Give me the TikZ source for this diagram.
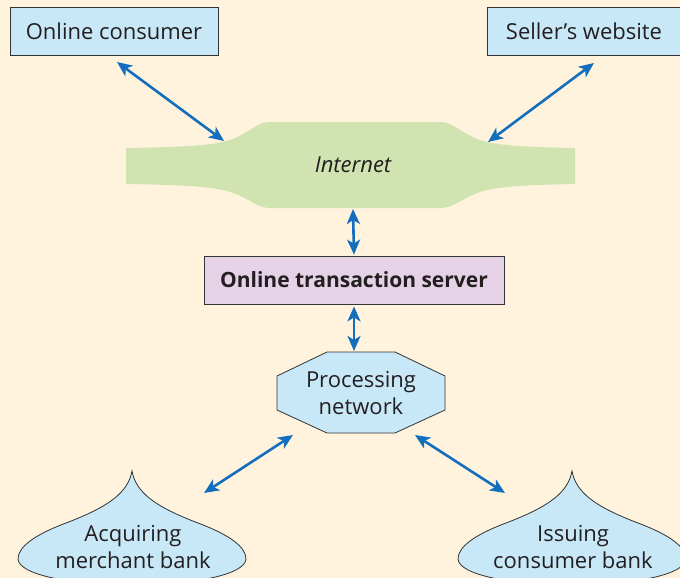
\documentclass[tikz,border=0pt]{standalone}
\usepackage{fontspec}
\setmainfont{Open Sans}
\usetikzlibrary{arrows.meta,positioning}
\definecolor{bgcream}{HTML}{FFF3DD}
\definecolor{boxblue}{HTML}{C8E8F8}
\definecolor{srvpurple}{HTML}{E6D2E6}
\definecolor{netgreen}{HTML}{D0E3B0}
\definecolor{linkblue}{HTML}{146EBE}
\definecolor{edgegray}{HTML}{333333}
\definecolor{txtgray}{HTML}{231F20}

\begin{document}
\begin{tikzpicture}[x=1pt, y=-1pt,
        box/.style={draw=edgegray, line width=0.8pt, fill=boxblue, rectangle,
                    minimum height=48pt, align=center, text=txtgray,
                    font=\fontsize{22}{27}\selectfont},
        lbl/.style={align=center, text=txtgray, font=\fontsize{22}{27}\selectfont},
        shp/.style={draw=edgegray, line width=0.8pt, fill=boxblue},
        link/.style={{Stealth[length=15pt,width=13pt,inset=4pt]}-{Stealth[length=15pt,width=13pt,inset=4pt]},
                     draw=linkblue, line width=2.6pt}
    ]
        \fill[bgcream] (0,0) rectangle (680,578);
        \clip (0,0) rectangle (680,578);

        % top boxes
        \node[box, minimum width=208pt] (oc) at (114,31) {Online consumer};
        \node[box, minimum width=194pt] (sw) at (584,31) {Seller’s website};

        % internet cloud
        \fill[netgreen] (126,148) .. controls (180,147) and (212,146) .. (230,140)
            .. controls (250,133) and (256,122) .. (270,122) -- (440,122)
            .. controls (454,122) and (462,134) .. (480,140)
            .. controls (498,146) and (530,147) .. (575,148) -- (575,184)
            .. controls (530,185) and (498,186) .. (480,192)
            .. controls (462,198) and (454,208) .. (440,208) -- (270,208)
            .. controls (256,208) and (250,198) .. (230,192)
            .. controls (212,186) and (180,185) .. (126,184) -- cycle;
        \node[lbl, font=\fontsize{22}{27}\selectfont\itshape] (inet) at (353,165) {Internet};

        % server
        \node[draw=edgegray, line width=0.8pt, fill=srvpurple, minimum width=300pt,
              minimum height=48pt, text=txtgray,
              font=\fontsize{21}{27}\selectfont\bfseries] (srv) at (354,280)
              {Online transaction server};

        % processing network
        \draw[shp] (277,376) -- (327,352) -- (395,352) -- (445,376) -- (445,410)
            -- (395,433) -- (327,433) -- (277,410) -- cycle;
        \node[lbl] (pn) at (361,393) {Processing\\network};

        % banks
        \foreach \bx/\nm/\txt in {132/amb/Acquiring\\merchant bank, 572/icb/Issuing\\consumer bank} {
            \begin{scope}[shift={(\bx,471)}]
                \draw[shp] (0,0) .. controls (4,22) and (24,36) .. (66,52)
                    .. controls (98,64) and (114,76) .. (114,88)
                    .. controls (113,104) and (60,114) .. (0,114)
                    .. controls (-60,114) and (-113,104) .. (-114,88)
                    .. controls (-114,76) and (-98,64) .. (-66,52)
                    .. controls (-24,36) and (-4,22) .. (0,0) -- cycle;
                \node[lbl] (\nm) at (1,547-471) {\txt};
            \end{scope}
        }

        % arrow ends
        \coordinate (oc-e) at (117,62);
        \coordinate (inet-w) at (224,141);
        \coordinate (sw-e) at (594,63);
        \coordinate (inet-e) at (488,142);
        \coordinate (inet-s) at (353,209);
        \coordinate (pn-n) at (354,351);
        \coordinate (pn-sw) at (293,435);
        \coordinate (amb-n) at (204,493);
        \coordinate (pn-se) at (415,435);
        \coordinate (icb-n) at (505,493);

        \draw[link] (oc-e) -- (inet-w);
        \draw[link] (sw-e) -- (inet-e);
        \draw[link, shorten >=1pt] (inet-s) -- (srv.north);
        \draw[link, shorten <=2pt] (srv.south) -- (pn-n);
        \draw[link] (pn-sw) -- (amb-n);
        \draw[link] (pn-se) -- (icb-n);
    \end{tikzpicture}
\end{document}
